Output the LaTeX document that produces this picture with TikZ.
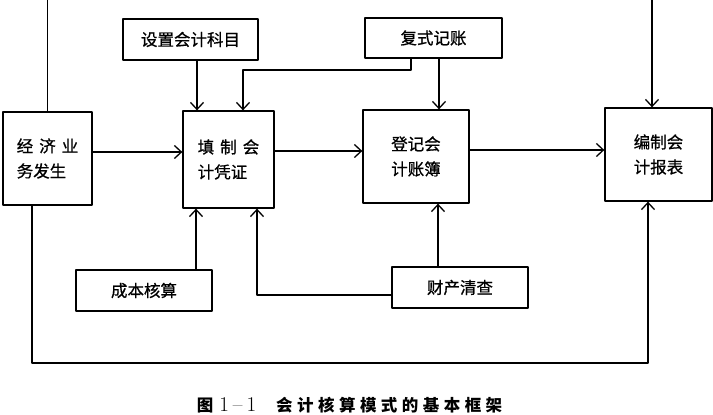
\documentclass[tikz,border=0pt]{standalone}
\usepackage{fontspec}
\newfontfamily\cjk{Noto Sans CJK SC}[FakeBold=0.8]
\newfontfamily\capfont{Noto Sans CJK SC}[LetterSpace=27]
\usetikzlibrary{arrows.meta}
\begin{document}
\begin{tikzpicture}[x=1pt, y=-1pt, line width=1.3pt, line join=round,
  >={Straight Barb[length=7pt,width=13pt]},
  kuang/.style={draw, inner sep=0pt, align=left, font=\cjk\fontsize{16.5}{25}\selectfont}]
\useasboundingbox (0,0) rectangle (713,415);

% 四个主框
\node[kuang, minimum width=89, minimum height=93] (jingji) at (47.5,158.5) {经\hspace{6pt}济\hspace{6pt}业\\务发生};
\node[kuang, minimum width=91, minimum height=97] (tianzhi) at (228.5,159.5) {填\hspace{6pt}制\hspace{6pt}会\\计凭证};
\node[kuang, minimum width=106, minimum height=93] (dengji) at (416,156.5) {登记会\\计账簿};
\node[kuang, minimum width=107, minimum height=93] (bianzhi) at (658.5,154.5) {编制会\\计报表};

% 方法框
\node[kuang, minimum width=135, minimum height=41] (shezhi) at (190.5,39.5) {设置会计科目};
\node[kuang, minimum width=137, minimum height=40] (fushi) at (433.5,38) {复式记账};
\node[kuang, minimum width=136, minimum height=41] (chengben) at (144,290.5) {成本核算};
\node[kuang, minimum width=136, minimum height=41] (caichan) at (460,287.5) {财产清查};

% 主流程
\draw[->] (jingji.east |- 0,152) -- (tianzhi.west |- 0,152);
\draw[->] (tianzhi.east |- 0,151) -- (dengji.west |- 0,151);
\draw[->] (dengji.east |- 0,150) -- (bianzhi.west |- 0,150);

% 上方
\draw (jingji.north) -- (jingji.north |- 0,0);
\draw[->] (652,0) -- (652,0 |- bianzhi.north);
\draw[->] (197,0 |- shezhi.south) -- (197,0 |- tianzhi.north);
\draw[->] (411,0 |- fushi.south) -- (411,70) -- (243,70) -- (243,0 |- tianzhi.north);
\draw[->] (439,0 |- fushi.south) -- (439,0 |- dengji.north);

% 下方
\draw[->] (196,0 |- chengben.north) -- (196,0 |- tianzhi.south);
\draw[->] (438,0 |- caichan.north) -- (438,0 |- dengji.south);
\draw[->] (caichan.west |- 0,295) -- (257,295) -- (257,0 |- tianzhi.south);
\draw[->] (32,0 |- jingji.south) -- (32,363) -- (648,363) -- (648,0 |- bianzhi.south);

\node[font=\fontsize{16.5}{20}\selectfont] (tuming) at (349.5,405)
  {{\capfont\bfseries 图}\hspace{6pt}{\fontsize{21}{21}\selectfont 1\hspace{4pt}--\hspace{4pt}1}\hspace{20pt}{\capfont\bfseries 会计核算模式的基本框架}};
\end{tikzpicture}
\end{document}
